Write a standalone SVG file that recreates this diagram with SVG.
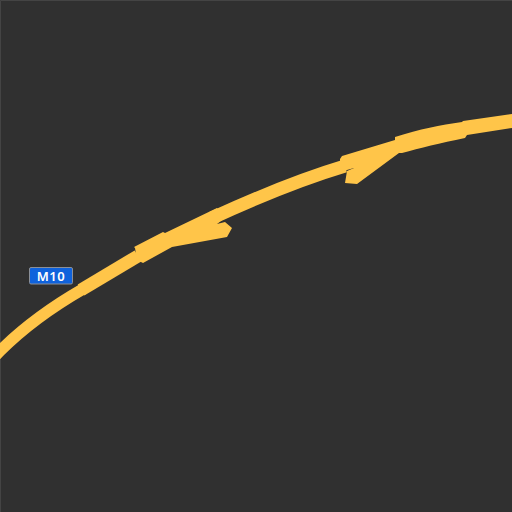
<svg xmlns="http://www.w3.org/2000/svg" width="512" height="512" viewBox="0 0 512 512">
<style>.road{fill:#ffc549}.line{fill:none;stroke:#ffc549}.lab{fill:#0f62dc;stroke:#8a8f98;stroke-width:1}.t{font:600 13px "Noto Sans",sans-serif;letter-spacing:.6px;fill:#fff;text-anchor:middle}</style>
<rect width="512" height="512" fill="#303030"/>
<path d="M.5 512V.5H512" fill="none" stroke="#444"/>
<path class="line" stroke-width="11.500" d="M-6 357L0 351C24 327 50 308 83 289"/>
<path class="line" stroke-width="13" d="M81 290L138 256"/>
<path class="line" stroke-width="13" d="M212 218C262 195 305 178 345 166"/>
<path class="road" d="M135 248L134 247L163 232L165 233L217 208L219 210L226 217L217 224L225 222L232 228L227 237L172 247L143 263L137 260Z"/>
<path class="road" d="M340 159L342 156L395 140L395 137C420 129 440 125 462 122L463 121L512 114V128L467 135L465 138C440 143 420 148 402 153L399 153L357 184L345 183L347 171L354 168L347 170L340 173Z"/>
<g id="m10"><rect class="lab" x="29.500" y="267.500" width="43" height="16.500" rx="1.500"/><text class="t" x="51" y="280.500">M10</text></g>
</svg>
